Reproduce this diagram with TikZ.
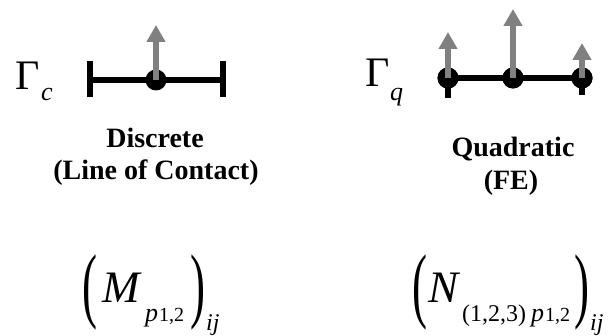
\documentclass[tikz,border=0pt]{standalone}
\usepackage{fontspec}
\setmainfont{Liberation Serif}
\usetikzlibrary{arrows.meta}
\definecolor{arrgray}{HTML}{808080}
\tikzset{
  seg/.style={line width=6pt},
  dotnode/.style={circle, fill=black, minimum size=21pt, inner sep=0pt},
  normarrow/.style={arrgray, line width=6pt, -{Triangle[length=17pt,width=18pt]}},
  lbl/.style={font=\fontsize{28}{32}\selectfont\bfseries, inner sep=0pt, anchor=base},
  bigG/.style={font=\fontsize{42}{42}\selectfont, inner sep=0pt, anchor=base west},
  subit/.style={font=\fontsize{26}{26}\selectfont\itshape, inner sep=0pt, anchor=base west},
  mainit/.style={font=\fontsize{45}{45}\selectfont\itshape, inner sep=0pt, anchor=base west},
  subA/.style={font=\fontsize{26}{26}\selectfont\itshape, inner sep=0pt, anchor=base west},
  subR/.style={font=\fontsize{24}{24}\selectfont, inner sep=0pt, anchor=base west},
  subB/.style={font=\fontsize{20}{20}\selectfont, inner sep=0pt, anchor=base west},
  subij/.style={font=\fontsize{24}{24}\selectfont\itshape, inner sep=0pt, anchor=base west},
  paren/.style={inner sep=0pt, anchor=center}
}
\newcommand\mybigparen[1]{\scalebox{1}[1.85]{\fontsize{45}{45}\selectfont #1}}
\begin{document}
\begin{tikzpicture}[x=1pt,y=-1pt]
\useasboundingbox (0,0) rectangle (611,336);

% ---- Discrete element ----
\node[bigG] (G1) at (15,90) {Γ};
\node[subit] (c1) at (41,101) {c};
\coordinate (L1) at (90,80);
\coordinate (R1) at (223,80);
\coordinate (L1t) at (90,61);
\coordinate (L1b) at (90,97);
\coordinate (R1t) at (223,61);
\coordinate (R1b) at (223,97);
\draw[seg] (L1) -- (R1);
\draw[seg] (L1t) -- (L1b);
\draw[seg] (R1t) -- (R1b);
\node[dotnode] (d1) at (156,80) {};
\coordinate (a1) at (156,25);
\draw[normarrow] (d1.center) -- (a1);
\node[lbl] (t1) at (155,148) {Discrete};
\node[lbl] (t2) at (156,180) {(Line of Contact)};

% ---- Quadratic element ----
\node[bigG] (G2) at (365,87) {Γ};
\node[subit] (q0) at (390,101) {q};
\coordinate (s1b) at (448,98);
\coordinate (s3b) at (582,95);
\node[dotnode] (q1) at (448,78) {};
\node[dotnode] (q2) at (513,78) {};
\node[dotnode] (q3) at (582,78) {};
\draw[seg] (q1.center) -- (q3.center);
\draw[seg] (q1.center) -- (s1b);
\draw[seg] (q3.center) -- (s3b);
\node[dotnode] at (448,78) {};
\node[dotnode] at (513,78) {};
\node[dotnode] at (582,78) {};
\coordinate (a2) at (448,32);
\coordinate (a3) at (513,9);
\coordinate (a4) at (582,43);
\draw[normarrow] (q1.center) -- (a2);
\draw[normarrow] (q2.center) -- (a3);
\draw[normarrow] (q3.center) -- (a4);
\node[lbl] (t3) at (513,157) {Quadratic};
\node[lbl] (t4) at (511,190) {(FE)};

% ---- Formula left ----
\node[paren] (pl1) at (90,292.5) {\mybigparen{(}};
\node[mainit] (M) at (102,303) {M};
\node[subA] (p1) at (145,322) {p};
\node[subB] (n1) at (159,322) {1,2};
\node[paren] (pr1) at (198,292.5) {\mybigparen{)}};
\node[subij] (ij1) at (206,331) {ij};

% ---- Formula right ----
\node[paren] (pl2) at (420,292.5) {\mybigparen{(}};
\node[mainit] (N) at (428,303) {N};
\node[subR] (n123) at (462,322) {(1,2,3)};
\node[subA] (p2) at (531,322) {p};
\node[subB] (n2) at (545,322) {1,2};
\node[paren] (pr2) at (582,292.5) {\mybigparen{)}};
\node[subij] (ij2) at (590,331) {ij};
\end{tikzpicture}
\end{document}
